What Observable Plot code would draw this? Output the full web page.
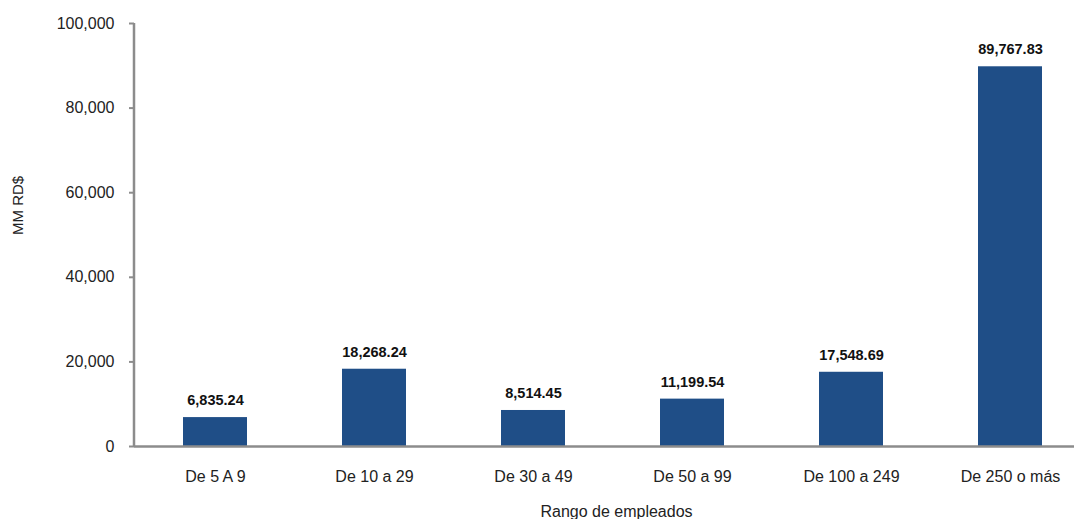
<!DOCTYPE html>
<html>
<head>
<meta charset="utf-8">
<script src="https://cdn.jsdelivr.net/npm/d3@7"></script>
<script src="https://cdn.jsdelivr.net/npm/@observablehq/plot@0.6"></script>
<style>
  html, body { margin: 0; padding: 0; background: #fff; }
  #chart svg { display: block; }
</style>
</head>
<body>
<div id="chart"></div>
<script>
const categories = ["De 5 A 9", "De 10 a 29", "De 30 a 49", "De 50 a 99", "De 100 a 249", "De 250 o más"];
const values = [6835.24, 18268.24, 8514.45, 11199.54, 17548.69, 89767.83];
const yTicks = [0, 20000, 40000, 60000, 80000, 100000];

const data = categories.map((c, i) => ({category: c, value: values[i]}));
const fmtTick = d3.format(",");
const fmtVal = d3.format(",.2f");
const font = "'Liberation Sans', Arial, sans-serif";

// vertical y-axis line, drawn from the y scale
function yAxisLine(index, scales, values, dimensions) {
  const ns = "http://www.w3.org/2000/svg";
  const line = document.createElementNS(ns, "line");
  const x = dimensions.marginLeft;
  line.setAttribute("x1", x);
  line.setAttribute("x2", x);
  line.setAttribute("y1", scales.y(0));
  line.setAttribute("y2", scales.y(yTicks[yTicks.length - 1]));
  line.setAttribute("stroke", "#8c8c8c");
  line.setAttribute("stroke-width", 2.5);
  return line;
}

const chart = Plot.plot({
  width: 1074,
  height: 519,
  marginTop: 23,
  marginBottom: 73,
  marginLeft: 134,
  marginRight: 0,
  style: {fontFamily: font, fontSize: "16px", color: "#222", background: "#fff"},
  x: {domain: categories, range: [134, 1090], paddingInner: 0.6, paddingOuter: 0.3, label: null},
  y: {domain: [0, 100000], range: [446, 23], label: null},
  marks: [
    Plot.barY(data, {x: "category", y: "value", fill: "#1F4E87"}),
    Plot.ruleY([0], {stroke: "#8c8c8c", strokeWidth: 2.5}),
    yAxisLine,
    Plot.axisY({ticks: yTicks, tickFormat: fmtTick, tickSize: 5, tickPadding: 15, stroke: "#8c8c8c", strokeWidth: 2, fontSize: 16, fill: "#222", label: null}),
    Plot.axisX({tickSize: 0, tickPadding: 24, fontSize: 16, fill: "#222", label: null}),
    Plot.text(data, {x: "category", y: "value", text: d => fmtVal(d.value), dy: -17, fontWeight: "bold", fontSize: 14.5, fill: "#111"}),
    Plot.text(["MM RD$"], {frameAnchor: "left", dx: -116, rotate: -90, fontSize: 15, fill: "#222"}),
    Plot.text(["Rango de empleados"], {frameAnchor: "bottom", dx: 12, dy: 70, fontSize: 16, fill: "#222"})
  ]
});
document.getElementById("chart").appendChild(chart);
</script>
</body>
</html>
